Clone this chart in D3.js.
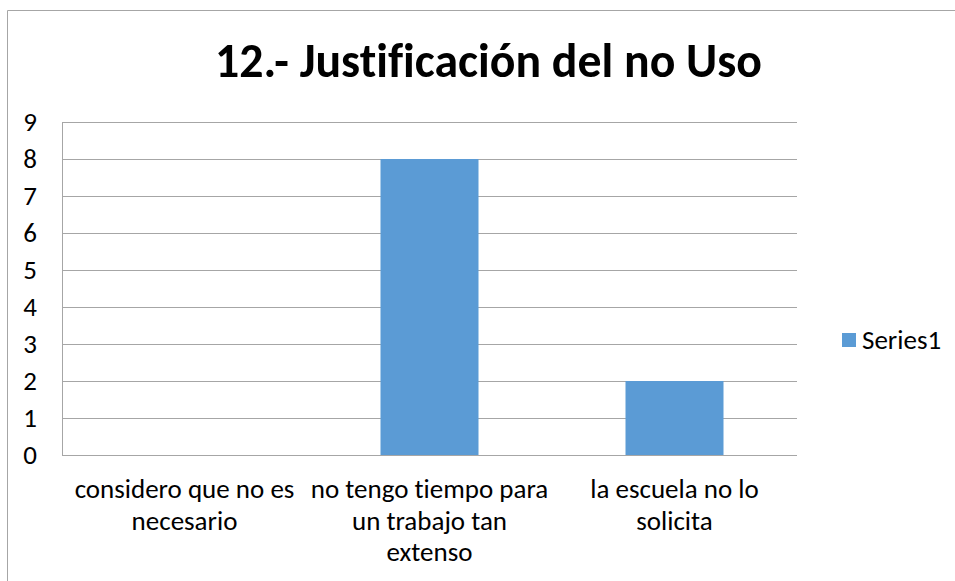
<!DOCTYPE html>
<html>
<head>
<meta charset="utf-8">
<script src="https://cdn.jsdelivr.net/npm/d3@7"></script>
<style>
  body { margin: 0; background: #fff; }
  svg { display: block; font-family: Carlito, Calibri, "Liberation Sans", Arial, sans-serif; }
  text { font-variant-ligatures: none; font-feature-settings: "liga" 0, "clig" 0; }
</style>
</head>
<body>
<svg id="chart" width="955" height="581"></svg>
<script>
'use strict';

// chart data
var title = '12.- Justificación del no Uso';
var categories = ['considero que no es\nnecesario', 'no tengo tiempo para\nun trabajo tan\nextenso', 'la escuela no lo\nsolicita'];
var series1 = [0, 8, 2];
var yTicks = [0, 1, 2, 3, 4, 5, 6, 7, 8, 9];
var seriesName = 'Series1';

var svg = d3.select('#chart');

var plot = { left: 62, right: 797, top: 122, bottom: 455 };
var fs = 27;

// outer chart border (only top and left visible in the picture)
svg.append('path')
    .attr('d', 'M7.5,581 V10.5 H955')
    .attr('fill', 'none')
    .attr('stroke', '#a6a6a6')
    .attr('stroke-width', 1);

svg.append('text')
    .attr('x', 488.5)
    .attr('y', 77)
    .attr('text-anchor', 'middle')
    .attr('font-size', 49)
    .attr('font-weight', 'bold')
    .attr('textLength', 547)
    .attr('lengthAdjust', 'spacingAndGlyphs')
    .attr('fill', '#000')
    .text(title);

var x = d3.scaleBand()
    .domain(categories)
    .range([plot.left, plot.right])
    .paddingInner(0.6)
    .paddingOuter(0.3);

var y = d3.scaleLinear()
    .domain([0, 9])
    .range([plot.bottom, plot.top]);

// gridlines
svg.append('g').selectAll('line')
    .data(yTicks)
  .enter().append('line')
    .attr('x1', plot.left)
    .attr('x2', plot.right)
    .attr('y1', function (d) { return Math.round(y(d)) + 0.5; })
    .attr('y2', function (d) { return Math.round(y(d)) + 0.5; })
    .attr('stroke', '#a6a6a6')
    .attr('stroke-width', 1);

// left axis line
svg.append('line')
    .attr('x1', plot.left + 0.5).attr('x2', plot.left + 0.5)
    .attr('y1', plot.top).attr('y2', plot.bottom)
    .attr('stroke', '#a6a6a6');

// y tick labels
svg.append('g').selectAll('text')
    .data(yTicks)
  .enter().append('text')
    .attr('x', 37)
    .attr('y', function (d) { return y(d); })
    .attr('dy', '0.33em')
    .attr('text-anchor', 'end')
    .attr('font-size', fs)
    .attr('fill', '#000')
    .text(function (d) { return d; });

// bars
svg.append('g').selectAll('rect')
    .data(series1)
  .enter().append('rect')
    .attr('x', function (d, i) { return x(categories[i]); })
    .attr('y', function (d) { return y(d); })
    .attr('width', x.bandwidth())
    .attr('height', function (d) { return y(0) - y(d); })
    .attr('fill', '#5b9bd5');

// category labels, one tspan per line
var cat = svg.append('g').selectAll('text')
    .data(categories)
  .enter().append('text')
    .attr('text-anchor', 'middle')
    .attr('font-size', fs)
    .attr('fill', '#000');

cat.selectAll('tspan')
    .data(function (d) {
        var cx = x(d) + x.bandwidth() / 2;
        return d.split('\n').map(function (s, i) { return { s: s, i: i, cx: cx }; });
    })
  .enter().append('tspan')
    .attr('x', function (d) { return d.cx; })
    .attr('y', function (d) { return 498 + d.i * 31.5; })
    .text(function (d) { return d.s; });

// legend
var legend = svg.append('g').attr('transform', 'translate(842,333)');
legend.append('rect')
    .attr('width', 14)
    .attr('height', 14)
    .attr('fill', '#5b9bd5');
legend.append('text')
    .attr('x', 20)
    .attr('y', 7)
    .attr('dy', '0.33em')
    .attr('font-size', fs)
    .attr('fill', '#000')
    .text(seriesName);
</script>
</body>
</html>
